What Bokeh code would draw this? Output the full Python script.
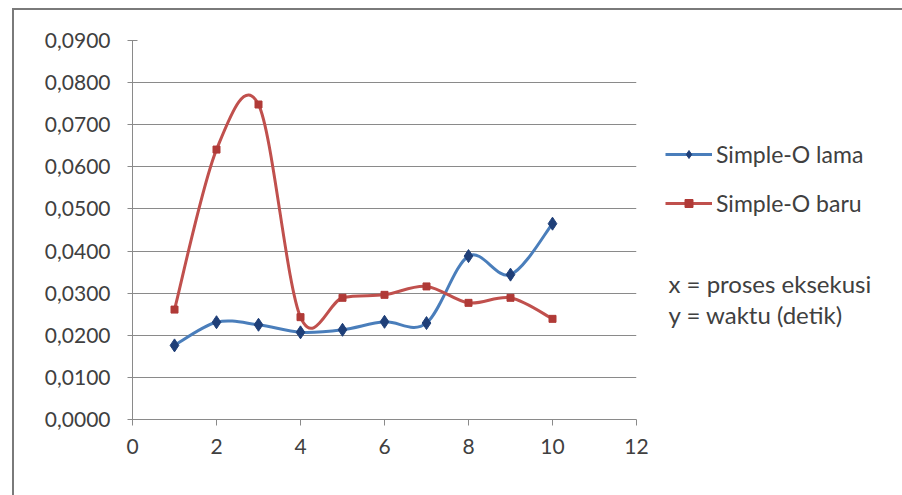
from bokeh.plotting import figure
from bokeh.layouts import row
from bokeh.models import (Range1d, FixedTicker, CustomJSTickFormatter, Legend,
                          LegendItem, Label, ColumnDataSource)
from bokeh.embed import file_html
from bokeh.resources import INLINE

# Execution time (seconds) per run, old vs new Simple-O
runs = [1, 2, 3, 4, 5, 6, 7, 8, 9, 10]
simple_o_lama = [0.0176, 0.0231, 0.0225, 0.0207, 0.0213, 0.0232, 0.0229, 0.0388, 0.0344, 0.0465]
simple_o_baru = [0.0261, 0.0641, 0.0748, 0.0243, 0.0289, 0.0296, 0.0316, 0.0277, 0.0289, 0.0239]
series_names = ["Simple-O lama", "Simple-O baru"]
x_ticks = [0, 2, 4, 6, 8, 10, 12]
y_ticks = [0.0, 0.01, 0.02, 0.03, 0.04, 0.05, 0.06, 0.07, 0.08, 0.09]
notes = ["x = proses eksekusi", "y = waktu (detik)"]

FONT = "Lato"
TEXT = "#404040"
GRID = "#8a8a8a"
BLUE_LINE, BLUE_MARK = "#4a7ebb", "#1f3f78"
RED_LINE, RED_MARK = "#c0504d", "#b03a37"
FS = "21px"

# shared frame borders so both panels line up
TOP, BOTTOM = 30, 76


def smooth_segments(xs, ys):
    """Cubic Bezier pieces through the points (Catmull-Rom style smoothing)."""
    n = len(xs)
    seg = {k: [] for k in ("x0", "y0", "x1", "y1", "cx0", "cy0", "cx1", "cy1")}
    for i in range(n - 1):
        xp, yp = (xs[i - 1], ys[i - 1]) if i > 0 else (xs[i], ys[i])
        xn, yn = (xs[i + 2], ys[i + 2]) if i + 2 < n else (xs[i + 1], ys[i + 1])
        seg["x0"].append(xs[i]); seg["y0"].append(ys[i])
        seg["x1"].append(xs[i + 1]); seg["y1"].append(ys[i + 1])
        seg["cx0"].append(xs[i] + (xs[i + 1] - xp) / 6)
        seg["cy0"].append(ys[i] + (ys[i + 1] - yp) / 6)
        seg["cx1"].append(xs[i + 1] - (xn - xs[i]) / 6)
        seg["cy1"].append(ys[i + 1] - (yn - ys[i]) / 6)
    return ColumnDataSource(seg)


# ---- main chart ----
p = figure(width=646, height=485, output_backend="svg", toolbar_location=None,
           x_range=Range1d(0, 12), y_range=Range1d(0, 0.09),
           min_border_left=118, min_border_right=24,
           min_border_top=TOP, min_border_bottom=BOTTOM)
p.outline_line_color = None
p.background_fill_color = "white"
p.border_fill_color = "white"

p.xgrid.grid_line_color = None
p.ygrid.grid_line_color = GRID
p.ygrid.grid_line_width = 1

p.xaxis.ticker = FixedTicker(ticks=x_ticks)
p.yaxis.ticker = FixedTicker(ticks=y_ticks)
p.yaxis.formatter = CustomJSTickFormatter(code="return tick.toFixed(4).replace('.', ',');")
for ax in (p.xaxis, p.yaxis):
    ax.axis_line_color = GRID
    ax.major_tick_line_color = GRID
    ax.minor_tick_line_color = None
    ax.major_label_text_font = FONT
    ax.major_label_text_font_size = FS
    ax.major_label_text_color = TEXT
p.yaxis.major_tick_in = 5
p.yaxis.major_tick_out = 5
p.yaxis.major_label_standoff = 17
p.xaxis.major_tick_in = 0
p.xaxis.major_tick_out = 6
p.xaxis.major_label_standoff = 13

# smoothed lines
p.bezier(x0="x0", y0="y0", x1="x1", y1="y1", cx0="cx0", cy0="cy0", cx1="cx1", cy1="cy1",
         source=smooth_segments(runs, simple_o_lama), line_color=BLUE_LINE, line_width=3)
p.bezier(x0="x0", y0="y0", x1="x1", y1="y1", cx0="cx0", cy0="cy0", cx1="cx1", cy1="cy1",
         source=smooth_segments(runs, simple_o_baru), line_color=RED_LINE, line_width=3)

# markers
p.scatter(runs, simple_o_lama, marker="diamond", size=13,
          fill_color=BLUE_MARK, line_color=BLUE_MARK)
p.scatter(runs, simple_o_baru, marker="square", size=7,
          fill_color=RED_MARK, line_color=RED_MARK)

# ---- side panel: legend and axis notes (pixel-like coordinates) ----
q = figure(width=242, height=485, output_backend="svg", toolbar_location=None,
           x_range=Range1d(0, 242), y_range=Range1d(0, 379),
           min_border_left=0, min_border_right=0,
           min_border_top=TOP, min_border_bottom=BOTTOM,
           x_axis_location=None, y_axis_location=None)
q.outline_line_color = None
q.grid.grid_line_color = None
q.background_fill_color = "white"
q.border_fill_color = "white"

# swatch renderers, kept off-screen; only their legend glyphs show
off = [-50, -40]
lb_line = q.line(off, off, line_color=BLUE_LINE, line_width=3)
lb_mark = q.scatter(off, off, marker="diamond", size=10, fill_color=BLUE_MARK, line_color=BLUE_MARK)
lr_line = q.line(off, off, line_color=RED_LINE, line_width=3)
lr_mark = q.scatter(off, off, marker="square", size=6, fill_color=RED_MARK, line_color=RED_MARK)

legend = Legend(items=[LegendItem(label=series_names[0], renderers=[lb_line, lb_mark]),
                       LegendItem(label=series_names[1], renderers=[lr_line, lr_mark])],
                location=(5, 202), orientation="vertical",
                glyph_width=47, glyph_height=20, label_height=20, spacing=21,
                label_standoff=4, padding=0, margin=0,
                border_line_color=None, background_fill_alpha=0,
                label_text_font=FONT, label_text_font_size="23px",
                label_text_color=TEXT)
q.add_layout(legend, "center")

for txt, yv in zip(notes, [136, 105]):
    q.add_layout(Label(x=8, y=yv, text=txt, text_font=FONT, text_font_size="24px",
                       text_color=TEXT, text_baseline="middle"))

layout = row(p, q, spacing=0)
layout.styles = {"margin-left": "12px", "margin-top": "8px",
                 "border-left": "2px solid #7a7a7a", "border-top": "2px solid #7a7a7a"}

open("out.html", "w").write(file_html(layout, INLINE))
